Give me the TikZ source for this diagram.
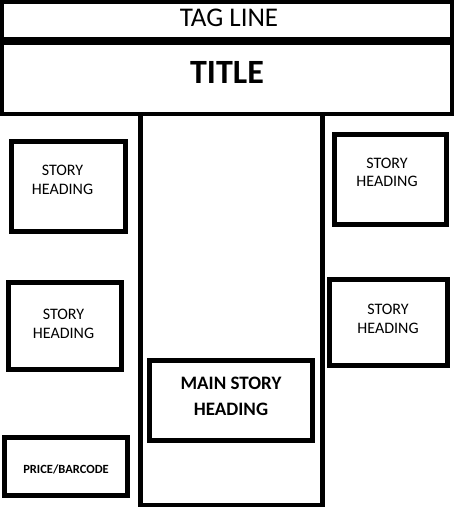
\documentclass[tikz,border=0pt]{standalone}
\usepackage{fontspec}
\setmainfont{Carlito}
\begin{document}
\begin{tikzpicture}[x=1pt,y=-1pt,
  frame/.style={draw=black,line width=5pt,fill=white,inner sep=0pt},
  lbl/.style={inner sep=0pt,align=center,anchor=base,text=black},
  storyfont/.style={font=\fontsize{16}{18.7}\selectfont},
]
\useasboundingbox[fill=white] (0,0) rectangle (454,507);
% column
\draw[line width=5pt] (140,116) -- (140,505) -- (322.5,505) -- (322.5,116);
% header
\node[frame,line width=4pt,minimum width=450pt,minimum height=37pt] (tag) at (227,20.5) {};
\node[frame,line width=4.5pt,minimum width=450pt,minimum height=71pt] (title) at (227,78.5) {};
\node[lbl,font=\fontsize{27}{30}\selectfont] (tagt) at (229,26) {TAG LINE};
\node[lbl,font=\fontsize{34}{40}\selectfont\bfseries] (titlet) at (227,83) {TITLE};
% story boxes
\node[frame,minimum width=114pt,minimum height=90pt] (s1) at (68,186) {};
\node[frame,minimum width=112pt,minimum height=90pt] (s2) at (390,179.5) {};
\node[frame,minimum width=112.5pt,minimum height=87.5pt] (s3) at (64.75,325.75) {};
\node[frame,minimum width=118pt,minimum height=86pt] (s4) at (388,322.5) {};
\node[frame,minimum width=163pt,minimum height=80pt] (main) at (231,400.5) {};
\node[frame,minimum width=123pt,minimum height=58pt] (price) at (66,466.5) {};
% texts
\node[lbl,storyfont] (s1t) at (62.5,194.3) {STORY\\HEADING};
\node[lbl,storyfont] (s2t) at (387,186.7) {STORY\\HEADING};
\node[lbl,storyfont] (s3t) at (63.5,338) {STORY\\HEADING};
\node[lbl,storyfont] (s4t) at (388,333) {STORY\\HEADING};
\node[lbl,font=\fontsize{19}{26}\selectfont\bfseries] (maint) at (231,415) {MAIN STORY\\HEADING};
\node[lbl,font=\fontsize{12.5}{14}\selectfont\bfseries] (pricet) at (66,473) {PRICE/BARCODE};
\end{tikzpicture}
\end{document}
